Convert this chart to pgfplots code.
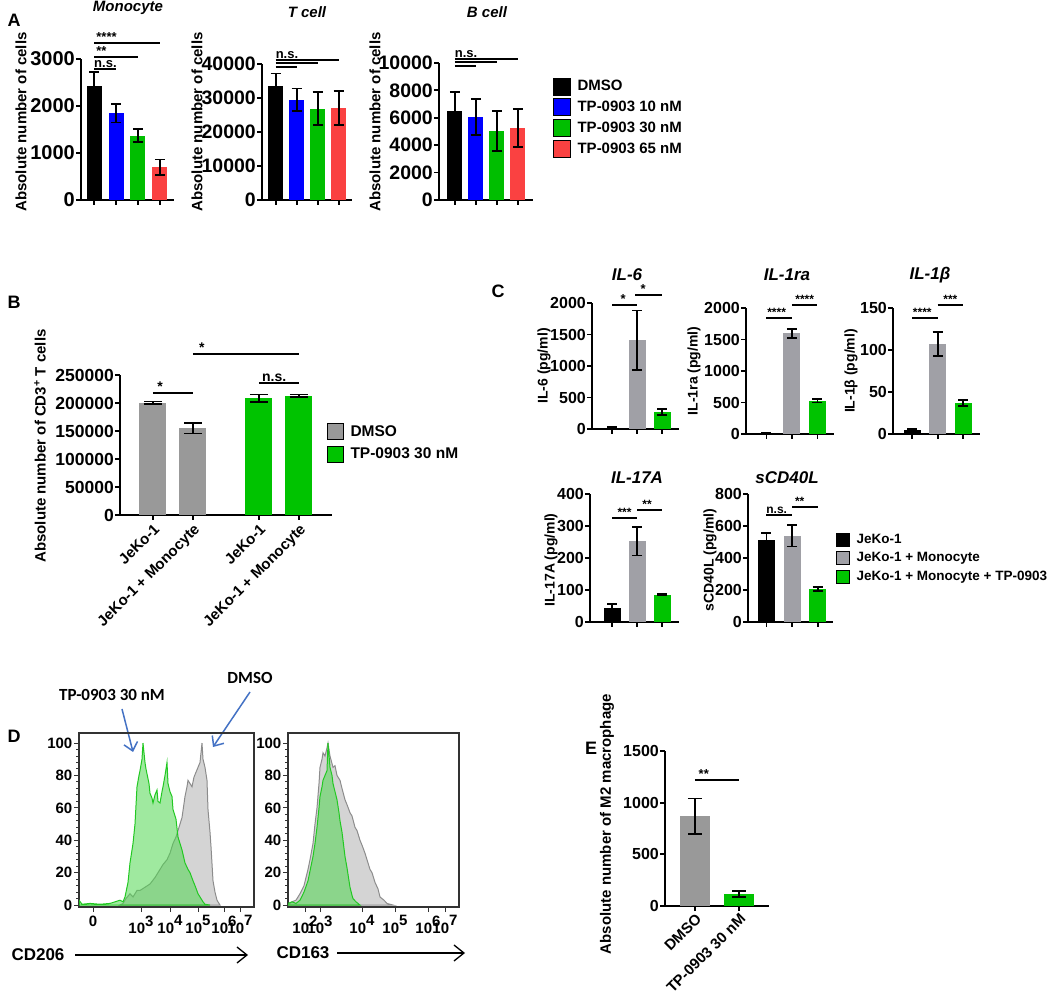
\documentclass[border=0pt]{standalone}
\usepackage{fontspec}
\setmainfont{Liberation Sans}
\newfontfamily\calib{Carlito}
\usepackage{pgfplots}
\pgfplotsset{compat=1.18}
\usetikzlibrary{arrows.meta}
\newcommand{\fs}[1]{\fontsize{#1}{#1}\selectfont\bfseries}
\newcommand{\tenp}[1]{10\raisebox{0.5em}{#1}}
\definecolor{cblue}{RGB}{0,0,255}
\definecolor{cgreenA}{RGB}{0,190,0}
\definecolor{cred}{RGB}{250,65,65}
\definecolor{cgray}{RGB}{153,153,153}
\definecolor{cgrayC}{RGB}{160,160,166}
\definecolor{cgreen}{RGB}{0,195,0}
\definecolor{arrowblue}{RGB}{68,114,196}
\definecolor{histgreen}{RGB}{34,200,34}
\definecolor{histgreenfill}{RGB}{80,215,80}
\definecolor{histgray}{RGB}{140,140,140}
\definecolor{histgrayfill}{RGB}{212,212,212}
\pgfplotsset{
  gp/.style={scale only axis, clip=false,
    axis x line*=bottom, axis y line*=left,
    axis line style={-, line width=2pt},
    tick align=outside, major tick length=5pt,
    tick style={line width=1.8pt, black},
    ymin=0, scaled y ticks=false,
    /pgf/number format/fixed,
    /pgf/number format/assume math mode=true,
    /pgf/number format/1000 sep={},
    yticklabel style={inner sep=1pt},
    xticklabels={}, minor tick num=0},
  capsize/.style={error bars/error mark options={rotate=90, mark size=#1, line width=1.8pt, black}},
  gbar/.style={ybar, bar shift=0pt, draw=none, fill=#1, forget plot,
    error bars/y dir=both, error bars/y explicit,
    error bars/error bar style={line width=1.8pt, black}, capsize=5pt},
  legsq/.style={legend image code/.code={\fill[##1] (0pt,-#1/2) rectangle (#1,#1/2);}},
  hist/.style={scale only axis, clip=true, axis line style={line width=1.1pt, black!80},
    tick align=outside, xtick pos=bottom, ytick pos=left,
    major tick length=5pt, minor tick length=3pt,
    tick style={line width=1pt, black!80},
    ymin=-1.2, ymax=106.2, ytick={0,20,40,60,80,100}, minor y tick num=4,
    /pgf/number format/fixed,
    /pgf/number format/assume math mode=true,
    tick label style={font=\fs{15}}, yticklabel style={inner sep=1.5pt}},
}
\begin{document}
\begin{tikzpicture}[x=1pt,y=1pt]
\path[use as bounding box] (0,0) rectangle (1050,997);

% ---------------- Panel A ----------------
\node[font=\fs{18}] at (14,977) {A};
\node[font=\fs{15}\itshape] at (128,989) {Monocyte};
\node[font=\fs{15}\itshape] at (307,985) {T cell};
\node[font=\fs{15}\itshape] at (487,985) {B cell};
\node[rotate=90,font=\fs{15}] at (21,875) {Absolute number of cells};
\node[rotate=90,font=\fs{15}] at (197,875) {Absolute number of cells};
\node[rotate=90,font=\fs{15}] at (375,875) {Absolute number of cells};

\begin{axis}[gp, at={(81pt,797pt)}, width=93pt, height=141pt,
  xmin=-0.6, xmax=3.65, ymax=3000, ytick={0,1000,2000,3000}, xtick={0,1,2,3},
  bar width=15pt, tick label style={font=\fs{20}}]
\addplot[gbar=black] coordinates {(0,2420) +- (0,310)};
\addplot[gbar=cblue] coordinates {(1,1850) +- (0,200)};
\addplot[gbar=cgreenA] coordinates {(2,1370) +- (0,140)};
\addplot[gbar=cred] coordinates {(3,700) +- (0,160)};
\draw[line width=2pt] (axis cs:0,2787) -- (axis cs:1,2787);
\draw[line width=2pt] (axis cs:0,3043) -- (axis cs:2,3043);
\draw[line width=2pt] (axis cs:0,3340) -- (axis cs:3,3340);
\node[font=\fs{13}, anchor=south west, inner sep=1pt] at (axis cs:-0.05,2787) {n.s.};
\node[font=\fs{13}, anchor=south west, inner sep=1pt] at (axis cs:0.05,3043) {**};
\node[font=\fs{13}, anchor=south west, inner sep=1pt] at (axis cs:0.05,3340) {****};
\end{axis}

\begin{axis}[gp, at={(262pt,797pt)}, width=90.3pt, height=136pt,
  xmin=-0.65, xmax=3.65, ymax=40000, ytick={0,10000,20000,30000,40000}, xtick={0,1,2,3},
  bar width=15pt, tick label style={font=\fs{19.5}}]
\addplot[gbar=black] coordinates {(0,33400) +- (0,3800)};
\addplot[gbar=cblue] coordinates {(1,29500) +- (0,3300)};
\addplot[gbar=cgreenA] coordinates {(2,26900) +- (0,4900)};
\addplot[gbar=cred] coordinates {(3,27000) +- (0,5000)};
\draw[line width=2pt] (axis cs:0,39117) -- (axis cs:1,39117);
\draw[line width=2pt] (axis cs:0,40150) -- (axis cs:2,40150);
\draw[line width=2pt] (axis cs:0,41176) -- (axis cs:3,41176);
\node[font=\fs{13}, anchor=south west, inner sep=1pt] at (axis cs:-0.05,41176) {n.s.};
\end{axis}

\begin{axis}[gp, at={(439pt,797pt)}, width=93.5pt, height=137pt,
  xmin=-0.75, xmax=3.7, ymax=10000, ytick={0,2000,4000,6000,8000,10000}, xtick={0,1,2,3},
  bar width=15pt, tick label style={font=\fs{19.5}},
  legsq=17pt,
  legend style={at={(axis description cs:1.219,0.894)}, anchor=north west, draw=none, fill=none,
    font=\fs{15}, row sep=3.3pt, column sep=6pt, inner sep=0pt, nodes={inner sep=1pt}},
  legend cell align=left]
\addlegendimage{fill=black}\addlegendentry{DMSO}
\addlegendimage{fill=cblue}\addlegendentry{TP-0903 10 nM}
\addlegendimage{fill=cgreenA}\addlegendentry{TP-0903 30 nM}
\addlegendimage{fill=cred}\addlegendentry{TP-0903 65 nM}
\addplot[gbar=black] coordinates {(0,6500) +- (0,1400)};
\addplot[gbar=cblue] coordinates {(1,6050) +- (0,1300)};
\addplot[gbar=cgreenA] coordinates {(2,5050) +- (0,1450)};
\addplot[gbar=cred] coordinates {(3,5250) +- (0,1400)};
\draw[line width=2pt] (axis cs:0,9781) -- (axis cs:1,9781);
\draw[line width=2pt] (axis cs:0,10073) -- (axis cs:2,10073);
\draw[line width=2pt] (axis cs:0,10292) -- (axis cs:3,10292);
\node[font=\fs{13}, anchor=south west, inner sep=1pt] at (axis cs:-0.05,10292) {n.s.};
\end{axis}

% ---------------- Panel B ----------------
\node[font=\fs{18}] at (14,695) {B};
\node[rotate=90,font=\fs{15}] at (40,551) {Absolute number of CD3\textsuperscript{+} T cells};
\begin{axis}[gp, at={(120pt,482pt)}, width=212pt, height=140pt,
  xmin=-0.825, xmax=4.475, ymax=250000, ytick={0,50000,100000,150000,200000,250000},
  xtick={0,1,2.65,3.65}, xticklabels={JeKo-1, JeKo-1 + Monocyte, JeKo-1, JeKo-1 + Monocyte},
  xticklabel style={rotate=45, anchor=north east, font=\fs{15}, inner sep=2pt},
  yticklabel style={font=\fs{17.5}},
  bar width=27pt,
  legsq=16pt,
  legend style={at={(axis description cs:0.976,0.657)}, anchor=north west, draw=none, fill=none,
    font=\fs{15.5}, row sep=6pt, column sep=6pt, inner sep=0pt, nodes={inner sep=1pt}},
  legend cell align=left]
\addlegendimage{fill=cgray}\addlegendentry{DMSO}
\addlegendimage{fill=cgreen}\addlegendentry{TP-0903 30 nM}
\addplot[gbar=cgray, capsize=9pt] coordinates {(0,200000) +- (0,2500)};
\addplot[gbar=cgray, capsize=9pt] coordinates {(1,155000) +- (0,9500)};
\addplot[gbar=cgreen, capsize=9pt] coordinates {(2.65,208500) +- (0,6500)};
\addplot[gbar=cgreen, capsize=9pt] coordinates {(3.65,213000) +- (0,2000)};
\draw[line width=2pt] (axis cs:0,217857) -- (axis cs:1,217857);
\draw[line width=2pt] (axis cs:1,287500) -- (axis cs:3.65,287500);
\draw[line width=2pt] (axis cs:2.65,235714) -- (axis cs:3.65,235714);
\node[font=\fs{14}, anchor=south, inner sep=1pt] at (axis cs:0.18,217857) {*};
\node[font=\fs{14}, anchor=south, inner sep=1pt] at (axis cs:1.22,287500) {*};
\node[font=\fs{14}, anchor=south, inner sep=1pt] at (axis cs:3.03,235714) {n.s.};
\end{axis}

% ---------------- Panel C ----------------
\node[font=\fs{18}] at (498,706) {C};
\node[font=\fs{17}\itshape] at (627,722) {IL-6};
\node[font=\fs{17}\itshape] at (787,722) {IL-1ra};
\node[font=\fs{17}\itshape] at (930,722) {IL-1β};
\node[font=\fs{17}\itshape] at (637,519) {IL-17A};
\node[font=\fs{17}\itshape] at (787,519) {sCD40L};
\node[rotate=90,font=\fs{14}] at (544,631) {IL-6 (pg/ml)};
\node[rotate=90,font=\fs{14}] at (694,626) {IL-1ra (pg/ml)};
\node[rotate=90,font=\fs{14}] at (851,626) {IL-1β (pg/ml)};
\node[rotate=90,font=\fs{14}] at (551,437) {IL-17A (pg/ml)};
\node[rotate=90,font=\fs{14}] at (710,437) {sCD40L (pg/ml)};

\begin{axis}[gp, at={(592pt,568pt)}, width=87pt, height=126pt,
  xmin=-0.8, xmax=2.68, ymax=2000, ytick={0,500,1000,1500,2000}, xtick={0,1,2},
  bar width=17pt, tick label style={font=\fs{16}}]
\addplot[gbar=black] coordinates {(0,20) +- (0,8)};
\addplot[gbar=cgrayC] coordinates {(1,1410) +- (0,470)};
\addplot[gbar=cgreen] coordinates {(2,270) +- (0,50)};
\draw[line width=1.6pt] (axis cs:0,1968) -- (axis cs:1,1968);
\draw[line width=1.6pt] (axis cs:0.92,2127) -- (axis cs:2,2127);
\node[font=\fs{13}, anchor=south, inner sep=1pt] at (axis cs:0.45,1968) {*};
\node[font=\fs{13}, anchor=south, inner sep=1pt] at (axis cs:1.25,2127) {*};
\end{axis}

\begin{axis}[gp, at={(746pt,563pt)}, width=87.5pt, height=126pt,
  xmin=-0.8, xmax=2.63, ymax=2000, ytick={0,500,1000,1500,2000}, xtick={0,1,2},
  bar width=17pt, tick label style={font=\fs{16}}]
\addplot[gbar=black] coordinates {(0,10) +- (0,3)};
\addplot[gbar=cgrayC] coordinates {(1,1600) +- (0,70)};
\addplot[gbar=cgreen] coordinates {(2,530) +- (0,30)};
\draw[line width=1.6pt] (axis cs:0,1841) -- (axis cs:1,1841);
\draw[line width=1.6pt] (axis cs:1,2048) -- (axis cs:2,2048);
\node[font=\fs{12}, anchor=south, inner sep=1pt] at (axis cs:0.4,1841) {****};
\node[font=\fs{12}, anchor=south, inner sep=1pt] at (axis cs:1.5,2048) {****};
\end{axis}

\begin{axis}[gp, at={(893pt,563pt)}, width=87.2pt, height=126pt,
  xmin=-0.75, xmax=2.67, ymax=150, ytick={0,50,100,150}, xtick={0,1,2},
  bar width=17pt, tick label style={font=\fs{16}}]
\addplot[gbar=black] coordinates {(0,5) +- (0,1)};
\addplot[gbar=cgrayC] coordinates {(1,107) +- (0,14)};
\addplot[gbar=cgreen] coordinates {(2,37) +- (0,3.5)};
\draw[line width=1.6pt] (axis cs:0,138) -- (axis cs:1,138);
\draw[line width=1.6pt] (axis cs:1,153.6) -- (axis cs:2,153.6);
\node[font=\fs{12}, anchor=south, inner sep=1pt] at (axis cs:0.4,138) {****};
\node[font=\fs{12}, anchor=south, inner sep=1pt] at (axis cs:1.5,153.6) {***};
\end{axis}

\begin{axis}[gp, at={(590pt,375pt)}, width=89pt, height=128pt,
  xmin=-0.88, xmax=2.68, ymax=400, ytick={0,100,200,300,400}, xtick={0,1,2},
  bar width=17pt, tick label style={font=\fs{16}}]
\addplot[gbar=black] coordinates {(0,45) +- (0,12)};
\addplot[gbar=cgrayC] coordinates {(1,252) +- (0,44)};
\addplot[gbar=cgreen] coordinates {(2,85) +- (0,2)};
\draw[line width=1.6pt] (axis cs:0,325) -- (axis cs:1,325);
\draw[line width=1.6pt] (axis cs:1,350) -- (axis cs:2,350);
\node[font=\fs{12}, anchor=south, inner sep=1pt] at (axis cs:0.5,325) {***};
\node[font=\fs{12}, anchor=south, inner sep=1pt] at (axis cs:1.4,350) {**};
\end{axis}

\begin{axis}[gp, at={(748pt,375pt)}, width=85pt, height=128pt,
  xmin=-0.72, xmax=2.6, ymax=800, ytick={0,200,400,600,800}, xtick={0,1,2},
  bar width=17pt, tick label style={font=\fs{16}},
  legsq=13pt,
  legend style={at={(axis description cs:1.035,0.699)}, anchor=north west, draw=none, fill=none,
    font=\fs{13.5}, row sep=5pt, column sep=6pt, inner sep=0pt, nodes={inner sep=1pt}},
  legend cell align=left]
\addlegendimage{fill=black}\addlegendentry{JeKo-1}
\addlegendimage{fill=cgrayC}\addlegendentry{JeKo-1 + Monocyte}
\addlegendimage{fill=cgreen}\addlegendentry{JeKo-1 + Monocyte + TP-0903}
\addplot[gbar=black] coordinates {(0,515) +- (0,42)};
\addplot[gbar=cgrayC] coordinates {(1,540) +- (0,68)};
\addplot[gbar=cgreen] coordinates {(2,207) +- (0,13)};
\draw[line width=1.6pt] (axis cs:0,670) -- (axis cs:1,670);
\draw[line width=1.6pt] (axis cs:1,720) -- (axis cs:2,720);
\node[font=\fs{12}, anchor=south, inner sep=1pt] at (axis cs:0.4,670) {n.s.};
\node[font=\fs{12}, anchor=south, inner sep=1pt] at (axis cs:1.3,720) {**};
\end{axis}

% ---------------- Panel D ----------------
\node[font=\fs{18}] at (14,261) {D};
\node[font=\calib\bfseries\fontsize{17}{17}\selectfont] at (112,302) {TP-0903 30 nM};
\node[font=\calib\bfseries\fontsize{17}{17}\selectfont] at (250,319) {DMSO};
\draw[arrowblue, line width=1.5pt, -{Straight Barb[length=8pt,width=14pt]}] (122,288) -- (133,245);
\draw[arrowblue, line width=1.5pt, -{Straight Barb[length=8pt,width=14pt]}] (250,305) -- (213,250);
\node[font=\fs{17}] at (38,42) {CD206};
\draw[line width=1.3pt, -{Straight Barb[length=10pt,width=16pt]}] (75,42) -- (248,42);
\node[font=\fs{17}] at (303,44) {CD163};
\draw[line width=1.3pt, -{Straight Barb[length=10pt,width=16pt]}] (337,44) -- (465,44);

\begin{axis}[hist, at={(79pt,90pt)}, width=175pt, height=174pt, xmin=0, xmax=175,
  xtick={14,62,91,119,145,161},
  xticklabels={0,\tenp{3},\tenp{4},\tenp{5},\tenp{6},\tenp{7}}]
\addplot[draw=histgray, fill=histgrayfill, line width=1pt] coordinates {
(41,0) (44,1) (47,4) (51,7) (54,5) (58,9) (61,9) (66,11) (71,13) (76,17) (81,22) (84,25)
(88,28) (91,32) (94,38) (97,42) (99,46) (101,50) (103,54) (106,67) (108,73) (109,77)
(111,75) (113,73) (115,79) (117,82) (119,85) (121,88) (123,100) (124,90) (126,85)
(128,77) (129,59) (131,45) (132,36) (134,15) (136,8) (138,3) (141,0)} \closedcycle;
\addplot[draw=histgreen, fill=histgreenfill, fill opacity=0.55, line width=1pt] coordinates {
(0,3) (3,0.5) (11,1) (21,0.5) (31,1) (36,2) (41,3) (44,2) (46,5) (49,14) (51,26) (54,38)
(56,50) (58,73) (60,80) (61,83) (63,90) (64,100) (66,88) (67,84) (68,81) (70,75) (71,69)
(73,66) (74,63) (76,68) (78,71) (79,64) (81,63) (83,70) (84,73) (86,80) (88,88) (89,75)
(91,70) (93,67) (94,59) (96,55) (97,53) (99,42) (101,38) (103,34) (106,26) (109,22)
(111,20) (114,15) (116,12) (119,7) (121,5) (124,2) (126,0.5) (131,0)} \closedcycle;
\end{axis}

\begin{axis}[hist, at={(288pt,90pt)}, width=171pt, height=174pt, xmin=0, xmax=171,
  xtick={17,32,74,107,140,157},
  xticklabels={\tenp{2},\tenp{3},\tenp{4},\tenp{5},\tenp{6},\tenp{7}}]
\addplot[draw=histgray, fill=histgrayfill, line width=1pt] coordinates {
(0,0) (4,2) (8,3) (12,7) (16,12) (20,22) (22,28) (25,38) (27,50) (29,60) (31,75) (32,85)
(34,90) (35,94) (37,92) (39,97) (40,100) (42,92) (45,85) (47,86) (49,80) (52,77) (54,72)
(57,65) (59,62) (62,57) (64,55) (67,48) (69,46) (72,40) (74,37) (77,32) (80,26) (82,22)
(84,20) (87,14) (90,10) (92,5) (96,3) (99,1) (105,0)} \closedcycle;
\addplot[draw=histgreen, fill=histgreenfill, fill opacity=0.55, line width=1pt] coordinates {
(0,1) (4,2) (8,1) (12,3) (16,8) (20,15) (23,24) (25,30) (27,38) (29,48) (31,60) (32,67)
(34,73) (35,77) (37,80) (39,83) (40,100) (42,85) (44,80) (45,75) (47,70) (49,65) (51,57)
(52,52) (54,45) (55,40) (57,30) (59,23) (61,15) (62,11) (64,6) (65,4) (68,2) (72,0)} \closedcycle;
\end{axis}

% ---------------- Panel E ----------------
\node[font=\fs{18}] at (591,249) {E};
\node[rotate=90,font=\fs{15}] at (607,173) {Absolute number of M2 macrophage};
\begin{axis}[gp, at={(665pt,91pt)}, width=104pt, height=155pt,
  xmin=-0.68, xmax=1.68, ymax=1500, ytick={0,500,1000,1500}, xtick={0,1},
  xticklabels={DMSO, TP-0903 30 nM},
  xticklabel style={rotate=45, anchor=north east, font=\fs{15}, inner sep=1pt},
  yticklabel style={font=\fs{16}}, bar width=30pt]
\addplot[gbar=cgray, capsize=7pt] coordinates {(0,870) +- (0,170)};
\addplot[gbar=cgreen, capsize=7pt] coordinates {(1,115) +- (0,27)};
\draw[line width=2pt] (axis cs:0,1220) -- (axis cs:1,1220);
\node[font=\fs{13}, anchor=south, inner sep=1pt] at (axis cs:0.2,1220) {**};
\end{axis}
\end{tikzpicture}
\end{document}
